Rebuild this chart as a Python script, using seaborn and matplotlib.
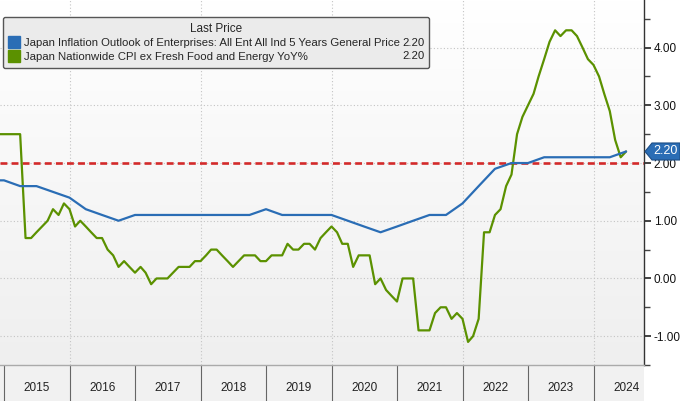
import numpy as np
import pandas as pd
import matplotlib
matplotlib.use("Agg")
import matplotlib.pyplot as plt
import seaborn as sns
from matplotlib.lines import Line2D
from matplotlib.patches import Rectangle, Polygon
from matplotlib.colors import LinearSegmentedColormap

# -------------------
# Data
outlook_name = "Japan Inflation Outlook of Enterprises: All Ent All Ind 5 Years General Price"
cpi_name = "Japan Nationwide CPI ex Fresh Food and Energy YoY%"

# quarterly, quarter ends from Sep 2014
outlook_start = "2014-09-30"
outlook_vals = [1.7, 1.7, 1.6, 1.6, 1.5, 1.4, 1.2, 1.1, 1.0, 1.1,
                1.1, 1.1, 1.1, 1.1, 1.1, 1.1, 1.1, 1.2, 1.1, 1.1,
                1.1, 1.1, 1.0, 0.9, 0.8, 0.9, 1.0, 1.1, 1.1, 1.3,
                1.6, 1.9, 2.0, 2.0, 2.1, 2.1, 2.1, 2.1, 2.1, 2.2]

# monthly, month ends from Nov 2014
cpi_start = "2014-11-30"
cpi_vals = [2.5, 2.5,
            2.5, 2.5, 2.5, 0.7, 0.7, 0.8, 0.9, 1.0, 1.2, 1.1, 1.3, 1.2,     # 2015
            0.9, 1.0, 0.9, 0.8, 0.7, 0.7, 0.5, 0.4, 0.2, 0.3, 0.2, 0.1,     # 2016
            0.2, 0.1, -0.1, 0.0, 0.0, 0.0, 0.1, 0.2, 0.2, 0.2, 0.3, 0.3,    # 2017
            0.4, 0.5, 0.5, 0.4, 0.3, 0.2, 0.3, 0.4, 0.4, 0.4, 0.3, 0.3,     # 2018
            0.4, 0.4, 0.4, 0.6, 0.5, 0.5, 0.6, 0.6, 0.5, 0.7, 0.8, 0.9,     # 2019
            0.8, 0.6, 0.6, 0.2, 0.4, 0.4, 0.4, -0.1, 0.0, -0.2, -0.3, -0.4, # 2020
            0.0, 0.0, 0.0, -0.9, -0.9, -0.9, -0.6, -0.5, -0.5, -0.7, -0.6, -0.7,  # 2021
            -1.1, -1.0, -0.7, 0.8, 0.8, 1.1, 1.2, 1.6, 1.8, 2.5, 2.8, 3.0,  # 2022
            3.2, 3.5, 3.8, 4.1, 4.3, 4.2, 4.3, 4.3, 4.2, 4.0, 3.8, 3.7,     # 2023
            3.5, 3.2, 2.9, 2.4, 2.1, 2.2]                                  # 2024

target_level = 2.0
years = list(range(2015, 2025))
y_ticks = [-1, 0, 1, 2, 3, 4]

blue = "#2a6db5"
green = "#5b9100"
red = "#d32a2a"


def decimal_year(dates):
    d = pd.DatetimeIndex(dates)
    return d.year + d.dayofyear / np.where(d.is_leap_year, 366, 365)


outlook_df = pd.DataFrame({
    "t": decimal_year(pd.date_range(outlook_start, periods=len(outlook_vals), freq="QE")),
    "value": outlook_vals})
cpi_df = pd.DataFrame({
    "t": decimal_year(pd.date_range(cpi_start, periods=len(cpi_vals), freq="ME")),
    "value": cpi_vals})

# -------------------
# Style
sns.set_style("white")
plt.rcParams["font.family"] = ["Liberation Sans Narrow", "Liberation Sans", "DejaVu Sans"]

fig = plt.figure(figsize=(6.8, 4.01), dpi=100)
ax = fig.add_axes([0, 36 / 401, 644 / 680, 365 / 401])
fig.add_artist(Rectangle((0, 0), 644 / 680, 36 / 401, transform=fig.transFigure,
                         facecolor="#f1f1f1", edgecolor="none", zorder=-5))

# background gradient
grad = np.linspace(0, 1, 256).reshape(-1, 1)
ax.imshow(grad, cmap=LinearSegmentedColormap.from_list("bg", ["#ffffff", "#efefef"]),
          extent=(0, 1, 0, 1), transform=ax.transAxes, aspect="auto", zorder=-10)

# grid
for yv in y_ticks:
    ax.axhline(yv, color="#c4c4c4", lw=0.8, ls=(0, (1, 2)), zorder=0)
for yr in years[1::2]:
    ax.axvline(yr, color="#c4c4c4", lw=0.8, ls=(0, (1, 2)), zorder=0)

ax.axhline(target_level, color=red, lw=1.9, ls=(0, (2.6, 1.6)), zorder=1)

sns.lineplot(data=outlook_df, x="t", y="value", color=blue, lw=1.6, ax=ax, zorder=3)
sns.lineplot(data=cpi_df, x="t", y="value", color=green, lw=1.6, ax=ax, zorder=2)

x0, x1 = 2015 - 4 / 65.5, 2015 + 640 / 65.5
y0, y1 = -1 - 28.3 / 57.8, 4 + 47.7 / 57.8
ax.set_xlim(x0, x1)
ax.set_ylim(y0, y1)

# y axis on the right
ax.yaxis.tick_right()
ax.set_yticks(y_ticks)
ax.set_yticks(np.arange(-1.5, 5, 1.0), minor=True)
ax.set_yticklabels([f"{v:.2f}" for v in y_ticks])
ax.tick_params(axis="y", which="major", direction="out", length=5, width=1.2,
               color="#222222", pad=2, labelsize=8.5, labelcolor="#111111", right=True, left=False)
ax.tick_params(axis="y", which="minor", direction="out", length=4, width=1,
               color="#444444", right=True, left=False)

# x axis: separators at year starts, labels mid-year
ax.set_xticks(years)
ax.set_xticklabels([""] * len(years))
ax.set_xticks([y + 0.5 for y in years], minor=True)
ax.set_xticklabels([str(y) for y in years], minor=True)
ax.tick_params(axis="x", which="major", direction="out", length=27, width=0.8,
               color="#666666", bottom=True)
ax.tick_params(axis="x", which="minor", length=0, pad=12, labelsize=8.5, labelcolor="#222222")
ax.set_xlabel("")
ax.set_ylabel("")

for side in ["top", "left"]:
    ax.spines[side].set_visible(False)
ax.spines["right"].set_color("#333333")
ax.spines["right"].set_linewidth(1)
ax.spines["bottom"].set_color("#aaaaaa")
ax.spines["bottom"].set_linewidth(1)

# legend
handles = [Line2D([], [], ls="none", marker="s", markersize=8, color=blue),
           Line2D([], [], ls="none", marker="s", markersize=8, color=green)]
leg = ax.legend(handles, [outlook_name, cpi_name], title="Last Price",
                loc="upper left", mode="expand",
                bbox_to_anchor=(3 / 644, 1 - 68 / 365, 426 / 644, 51 / 365),
                fontsize=8.2, title_fontsize=8.5, frameon=True, fancybox=True,
                handlelength=0.8, handletextpad=0.45, borderpad=0.55, labelspacing=0.28,
                borderaxespad=0)
leg.get_frame().set_facecolor("#ebebeb")
leg.get_frame().set_edgecolor("#555555")
leg.get_frame().set_linewidth(1)
leg.get_frame().set_alpha(1)
leg.set_zorder(8)
for yy, val in [(43, outlook_vals[-1]), (56, cpi_vals[-1])]:
    ax.text(425 / 644, 1 - yy / 365, f"{val:.2f}", transform=ax.transAxes,
            ha="right", va="center", fontsize=8.2, color="#222222", zorder=10)

# last price tag
tip = fig.transFigure.inverted().transform(ax.transData.transform((x1, outlook_vals[-1])))
w, h, n = 35 / 680, 17 / 401, 7 / 680
tx, ty = tip[0] + 1 / 680, tip[1]
fig.add_artist(Polygon([(tx, ty), (tx + n, ty + h / 2), (tx + w, ty + h / 2),
                        (tx + w, ty - h / 2), (tx + n, ty - h / 2)],
                       closed=True, transform=fig.transFigure,
                       facecolor=blue, edgecolor="#1d4e86", lw=0.8, zorder=10))
fig.text(tx + n + (w - n) / 2, ty, f"{outlook_vals[-1]:.2f}", ha="center", va="center",
         fontsize=9, color="white", zorder=11)

plt.savefig("out.png", dpi=100)
